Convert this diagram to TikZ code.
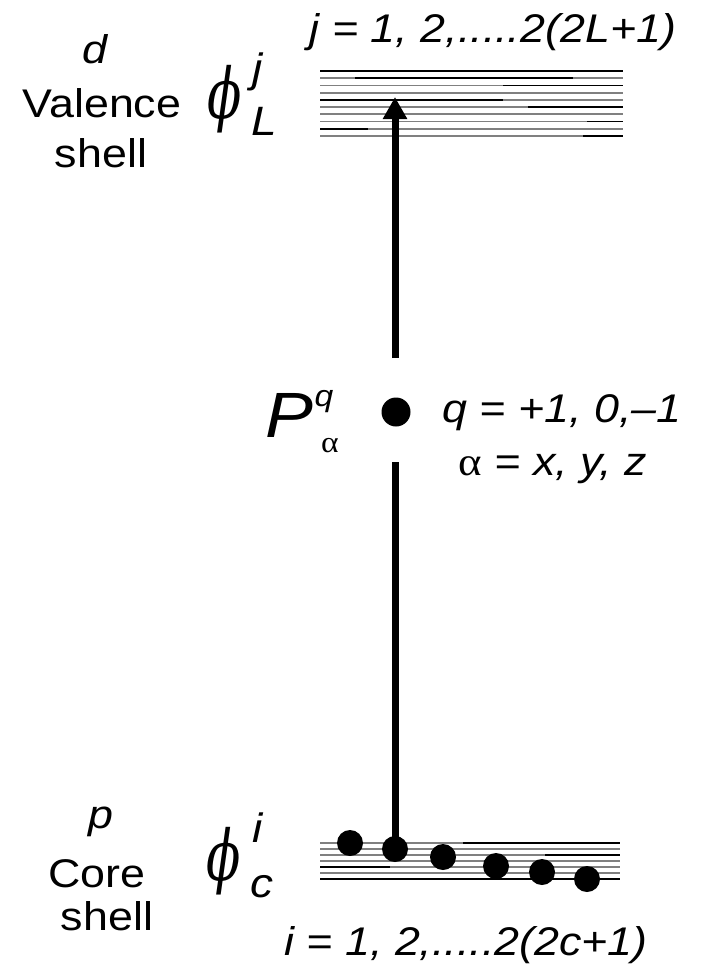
\documentclass[tikz,border=0pt]{standalone}
\usepackage{fontspec}
\setmainfont{Liberation Sans}
\newfontfamily\grk{Liberation Serif}
\newfontfamily\phifont{DejaVu Serif}
\usetikzlibrary{arrows.meta}
\newcommand{\hs}[1]{\scalebox{1.12}[1]{#1}}
\newcommand{\bigphi}{\scalebox{0.72}[1]{\phifont\itshape ϕ}}
\begin{document}
\begin{tikzpicture}[x=1pt,y=-1pt,
  txt/.style={inner sep=0pt, anchor=base, font=\fontsize{40}{48}\selectfont},
  itx/.style={txt, font=\fontsize{40}{48}\selectfont\itshape},
  subx/.style={txt, font=\fontsize{41}{48}\selectfont\itshape},
  phil/.style={inner sep=0pt, anchor=base, font=\fontsize{70}{80}\selectfont},
  bigp/.style={inner sep=0pt, anchor=base, font=\fontsize{64}{70}\selectfont\itshape},
  smallx/.style={inner sep=0pt, anchor=base, font=\fontsize{30}{34}\selectfont\itshape},
  dotn/.style={circle, fill=black, inner sep=0pt, minimum size=26pt},
  lvl/.style={line width=1.8pt, black!50},
  lvld/.style={line width=1.8pt, black},
  arr/.style={line width=7pt, black}]
\useasboundingbox (0,0) rectangle (703,967);

% ---- valence shell levels ----
\foreach \k in {0,...,9} {\draw[lvl] (320,71+7.2*\k) -- (623,71+7.2*\k);}
\draw[lvld] (320,71) -- (623,71);
\draw[lvld] (355,78.2) -- (573,78.2);
\draw[lvld] (503,85.4) -- (623,85.4);
\draw[lvld] (320,99.8) -- (503,99.8);
\draw[lvld] (528,107) -- (623,107);
\draw[lvld] (587,121.4) -- (623,121.4);
\draw[lvld] (320,128.6) -- (368,128.6);
\draw[lvld] (583,135.8) -- (623,135.8);

% ---- core shell levels ----
\foreach \k in {0,...,6} {\draw[lvl] (320,843+6*\k) -- (620,843+6*\k);}
\draw[lvld] (463,843) -- (620,843);
\draw[lvld] (545,855) -- (620,855);
\draw[lvld] (320,867) -- (390,867);
\draw[lvld] (320,879) -- (620,879);

% ---- core electrons ----
\node[dotn] (c1) at (350,843) {};
\node[dotn] (c2) at (395,849) {};
\node[dotn] (c3) at (443,857) {};
\node[dotn] (c4) at (496,866) {};
\node[dotn] (c5) at (542,872) {};
\node[dotn] (c6) at (587,879) {};

% ---- operator dot ----
\node[circle, fill=black, inner sep=0pt, minimum size=29pt] (op) at (396,412) {};

% ---- transition arrow ----
\coordinate (lowgap) at (395,462);
\coordinate (upgap) at (395,358);
\coordinate (tip) at (395,97);
\draw[arr] (c2.center) -- (lowgap);
\draw[arr, -{Triangle[length=22pt,width=23pt]}] (upgap) -- (tip);

% ---- left labels (valence) ----
\node[itx] (dl) at (95,63) {\hs{d}};
\node[txt] (val) at (102,117) {\hs{Valence}};
\node[txt] (sh1) at (101,167) {\hs{shell}};
\node[phil] (phiL) at (225,118) {\bigphi};
\node[subx] (jsup) at (258,82) {\hs{j}};
\node[subx] (Lsub) at (264,135) {\hs{L}};
\node[itx] (jlab) at (493,42) {\hs{j = 1, 2,.....2(2L+1)}};

% ---- operator labels ----
\node[bigp] (P) at (289,437) {\hs{P}};
\node[smallx] (qsup) at (324,406) {\hs{q}};
\node[inner sep=0pt, anchor=base, font=\fontsize{30}{34}\selectfont\grk] (asub) at (330,452) {\hs{α}};
\node[itx] (qlab) at (562,422) {\hs{q = +1, 0,–1}};
\node[itx] (alab) at (553,475) {\hs{{\upshape\grk α} = x, y, z}};

% ---- left labels (core) ----
\node[itx] (pl) at (101,828) {\hs{p}};
\node[txt] (core) at (97,887) {\hs{Core}};
\node[txt] (sh2) at (107,930) {\hs{shell}};
\node[phil] (phic) at (224,880) {\bigphi};
\node[subx] (isup) at (258,842) {\hs{i}};
\node[subx] (csub) at (262,897) {\hs{c}};
\node[itx] (ilab) at (466,955) {\hs{i = 1, 2,.....2(2c+1)}};
\end{tikzpicture}
\end{document}
